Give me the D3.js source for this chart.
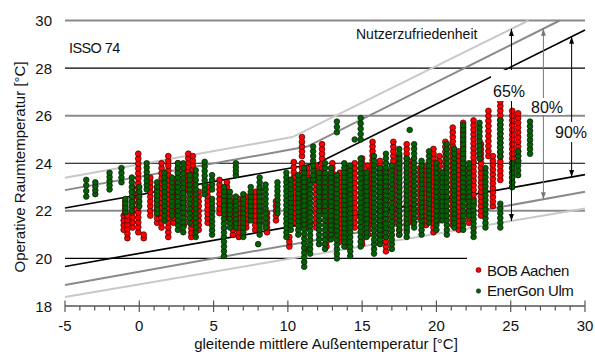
<!DOCTYPE html>
<html><head><meta charset="utf-8">
<script src="https://cdn.jsdelivr.net/npm/d3@7"></script>
<style>
html,body{margin:0;padding:0;background:#fff;}
svg{display:block;font-family:Arial,"Liberation Sans",sans-serif;}
</style></head>
<body>
<svg id="c" width="595" height="358"></svg>
<script>
// ---------- data ----------
const xTicks = [-5, 0, 5, 10, 15, 20, 25, 30];
const yTicks = [18, 20, 22, 24, 26, 28, 30];
const seriesNames = ["BOB Aachen", "EnerGon Ulm"];

// ISSO 74 comfort limits [outdoor temp, room temp]
const upper90 = [[-5, 22.12], [12, 24.0], [30, 29.6]];
const upper80 = [[-5, 22.87], [11.3, 24.7], [28.3, 30]];
const upper65 = [[-5, 23.39], [10.3, 25.1], [26.2, 30]];
const lower90 = [[-5, 19.66], [30, 23.52]];
const lower80 = [[-5, 18.88], [30, 22.8]];
const lower65 = [[-5, 18.38], [30, 22.1]];
const bandLabels = ["65%", "80%", "90%"];
const bandArrowX = [25.05, 27.2, 29.1];

// daily columns of hourly room temperatures: [outdoor temp, lowest, highest]
const aachen = [
 [-1.05,21.2,21.8],[-0.95,21.9,22.4],[-0.8,20.85,21.8],[-0.45,21.3,23.0],[-0.07,21.1,24.4],
 [0.3,20.85,21.0],[0.74,21.8,23.4],[1.2,21.5,23.0],[1.5,21.3,24.0],[1.95,20.9,24.3],
 [2.3,21.5,23.2],[2.6,22.0,24.0],[3.0,21.4,23.0],[3.3,22.9,24.4],[3.5,20.9,22.0],
 [3.6,22.0,24.3],[4.0,21.2,22.8],[4.6,21.5,23.0],[5.4,21.9,23.3],[5.9,21.7,23.2],
 [6.3,21.0,22.4],[6.7,20.9,22.5],[7.2,21.3,22.6],[7.8,21.2,22.8],[8.1,21.5,22.9],
 [8.6,21.1,21.9],[9.2,21.6,22.4],[10.1,21.3,23.1],[10.1,20.5,20.9],[10.4,23.4,24.05],
 [10.5,21.5,23.4],[10.95,24.3,25.1],[10.95,21.4,24.0],[11.3,20.4,20.4],[11.3,21.3,23.8],
 [11.9,21.3,23.9],[12.3,22.0,24.8],[12.6,20.5,23.5],[13.0,21.0,24.0],[13.5,20.7,23.6],
 [14.0,20.5,23.8],[14.5,21.3,24.0],[15.0,20.6,24.2],[15.4,21.0,23.9],[15.7,21.4,24.9],
 [16.2,20.7,24.1],[16.6,20.3,23.7],[17.1,21.5,24.9],[17.5,21.0,24.3],[18.0,21.2,24.8],
 [18.4,21.5,24.1],[18.9,21.7,23.8],[19.3,21.4,23.9],[19.8,21.1,24.6],[20.2,21.6,24.3],
 [20.6,22.0,24.9],[21.1,21.4,25.5],[21.5,21.2,24.5],[21.8,22.5,25.7],[22.2,21.5,23.8],
 [22.5,22.3,25.8],[23.0,21.8,24.8],[23.5,24.3,26.2],[23.8,22.2,24.3],[24.3,23.3,26.6],
 [25.1,23.0,26.2],[25.5,24.1,26.1]
];
const ulm = [
 [-3.57,22.6,23.3],[-2.96,22.7,23.2],[-2.0,22.9,23.6],[-1.2,23.2,23.8],[-0.93,21.95,22.5],
 [-0.5,22.0,23.4],[0.0,22.2,23.0],[0.5,22.9,24.0],[1.2,21.9,23.2],[1.7,21.6,23.6],
 [2.2,21.8,23.4],[2.6,21.2,24.0],[2.96,21.1,24.0],[3.4,21.5,23.5],[3.8,20.9,23.7],
 [4.4,22.7,24.06],[4.9,21.0,22.5],[4.9,22.9,23.5],[5.7,20.9,23.0],[5.7,20.1,20.7],
 [6.1,21.3,22.8],[6.5,23.5,24.0],[6.5,21.3,22.6],[7.0,20.9,22.7],[7.5,21.6,23.0],
 [8.0,20.6,20.6],[8.1,21.0,23.4],[8.5,21.3,23.1],[9.3,21.9,23.2],[9.9,20.9,23.6],
 [10.2,21.2,23.3],[10.7,21.0,23.5],[11.1,19.65,23.8],[11.5,20.2,23.3],[11.7,23.3,24.7],
 [12.1,20.6,23.6],[12.5,20.4,24.0],[12.9,20.8,23.8],[13.3,25.3,25.75],[13.3,20.0,23.5],
 [13.8,20.5,24.0],[14.2,20.1,23.9],[14.5,25.0,25.0],[14.9,25.0,25.9],[14.9,20.5,24.2],
 [15.3,20.9,23.6],[15.8,20.2,24.3],[16.2,20.6,23.8],[16.6,20.9,24.4],[17.0,20.4,23.9],
 [17.5,21.0,24.6],[18.0,20.9,24.2],[18.2,25.4,25.4],[18.5,21.3,24.8],[19.0,21.0,24.1],
 [19.5,21.5,24.5],[20.0,21.2,24.0],[20.4,21.6,23.6],[20.7,21.0,24.8],[21.2,21.3,24.6],
 [21.8,21.2,25.6],[22.2,21.8,24.0],[22.5,20.9,22.4],[22.9,24.2,25.7],[23.3,21.3,23.8],
 [24.3,24.3,25.8],[24.3,21.3,22.3],[25.1,23.0,24.0],[25.5,23.5,24.5],[26.3,24.4,25.75]
];

// ---------- drawing ----------
const svg = d3.select("#c");
const x = d3.scaleLinear().domain([-5, 30]).range([65, 585]);
const y = d3.scaleLinear().domain([18, 30]).range([306, 20.5]);

// grid lines
svg.append("g").selectAll("line").data(yTicks.filter(v => v > 18)).join("line")
  .attr("x1", x(-5)).attr("x2", x(30))
  .attr("y1", d => y(d)).attr("y2", d => y(d))
  .attr("stroke", d => (d % 4 === 0) ? "#000" : "#8a8a8a")
  .attr("stroke-width", d => (d % 4 === 0) ? 1.2 : 2);

// comfort lines
const line = d3.line().x(d => x(d[0])).y(d => y(d[1]));
const comfort = [
  [upper65, "#c8c8c8", 2], [lower65, "#c8c8c8", 2],
  [upper80, "#8a8a8a", 2], [lower80, "#8a8a8a", 2],
  [upper90, "#000", 1.7], [lower90, "#000", 1.7]
];
svg.append("g").selectAll("path").data(comfort).join("path")
  .attr("d", d => line(d[0])).attr("fill", "none")
  .attr("stroke", d => d[1]).attr("stroke-width", d => d[2]);

// stacked hourly points
function expand(cols) {
  const pts = [];
  cols.forEach(c => {
    const n = Math.max(1, Math.round((c[2] - c[1]) / 0.2) + 1);
    for (let i = 0; i < n; i++) pts.push([c[0], n === 1 ? c[1] : c[1] + (c[2] - c[1]) * i / (n - 1)]);
  });
  return pts;
}
svg.append("g").selectAll("circle").data(expand(aachen)).join("circle")
  .attr("cx", d => x(d[0])).attr("cy", d => y(d[1])).attr("r", 2.9)
  .attr("fill", "#ff0000").attr("stroke", "#3a0000").attr("stroke-width", 0.7);
svg.append("g").selectAll("circle").data(expand(ulm)).join("circle")
  .attr("cx", d => x(d[0])).attr("cy", d => y(d[1])).attr("r", 2.8)
  .attr("fill", "#006400").attr("stroke", "#102010").attr("stroke-width", 0.8);

// arrows between limits
function interp(arr, t) {
  for (let i = 0; i < arr.length - 1; i++) {
    if (t >= arr[i][0] && t <= arr[i + 1][0]) {
      const f = (t - arr[i][0]) / (arr[i + 1][0] - arr[i][0]);
      return arr[i][1] + f * (arr[i + 1][1] - arr[i][1]);
    }
  }
  return arr[arr.length - 1][1];
}
const bands = [[upper65, lower65, "#000"], [upper80, lower80, "#777"], [upper90, lower90, "#000"]];
const defs = svg.append("defs");
["#000", "#777"].forEach((c, i) => {
  defs.append("marker").attr("id", "ah" + i).attr("viewBox", "0 0 10 10")
    .attr("refX", 10).attr("refY", 5).attr("markerWidth", 7).attr("markerHeight", 7)
    .attr("markerUnits", "userSpaceOnUse").attr("orient", "auto-start-reverse")
    .append("path").attr("d", "M0,1.5L10,5L0,8.5Z").attr("fill", c);
});
const ag = svg.append("g");
bands.forEach((b, i) => {
  const t = bandArrowX[i];
  ag.append("line").attr("x1", x(t)).attr("x2", x(t))
    .attr("y1", y(interp(b[0], t))).attr("y2", y(interp(b[1], t)))
    .attr("stroke", b[2]).attr("stroke-width", 1)
    .attr("marker-start", `url(#ah${b[2] === "#000" ? 0 : 1})`)
    .attr("marker-end", `url(#ah${b[2] === "#000" ? 0 : 1})`);
});
// band labels with white boxes
const labPos = [[509, 97, 491, 70, 36, 31], [547, 113, 528, 98, 38, 17], [571, 138, 554, 122, 34, 20]];
bandLabels.forEach((l, i) => {
  const p = labPos[i];
  svg.append("rect").attr("x", p[2]).attr("y", p[3]).attr("width", p[4]).attr("height", p[5]).attr("fill", "#fff");
  svg.append("text").attr("x", p[0]).attr("y", p[1]).attr("text-anchor", "middle")
    .attr("font-size", 16).attr("fill", "#111").text(l);
});

// x axis
const ax = svg.append("g").attr("stroke", "#555");
ax.append("line").attr("x1", x(-5)).attr("x2", x(30)).attr("y1", 306).attr("y2", 306).attr("stroke-width", 1.5);
ax.selectAll(".mi").data(d3.range(-5, 31, 1)).join("line")
  .attr("x1", d => x(d)).attr("x2", d => x(d))
  .attr("y1", d => d % 5 === 0 ? 300.5 : 306).attr("y2", d => d % 5 === 0 ? 312 : 310.5)
  .attr("stroke-width", 1.2);
svg.append("g").selectAll("text").data(xTicks).join("text")
  .attr("x", d => x(d)).attr("y", 331).attr("text-anchor", "middle")
  .attr("font-size", 15).attr("fill", "#111").text(d => d);
svg.append("g").selectAll("text").data(yTicks).join("text")
  .attr("x", 52).attr("y", d => y(d) + 5.5).attr("text-anchor", "end")
  .attr("font-size", 15).attr("fill", "#111").text(d => d);

// titles
svg.append("text").attr("x", 326).attr("y", 349).attr("text-anchor", "middle")
  .attr("font-size", 15).attr("fill", "#111").text("gleitende mittlere Außentemperatur [°C]");
svg.append("text").attr("transform", "translate(25,167) rotate(-90)").attr("text-anchor", "middle")
  .attr("font-size", 15).attr("fill", "#111").text("Operative Raumtemperatur [°C]");
svg.append("text").attr("x", 69).attr("y", 53).attr("font-size", 14.5).attr("letter-spacing", -0.6)
  .attr("fill", "#111").text("ISSO 74");
svg.append("text").attr("x", 356).attr("y", 38.5).attr("font-size", 14).attr("fill", "#111")
  .text("Nutzerzufriedenheit");

// legend
const lg = svg.append("g");
lg.append("rect").attr("x", 467).attr("y", 252).attr("width", 119).attr("height", 48).attr("fill", "#fff");
lg.append("circle").attr("cx", 478.5).attr("cy", 270).attr("r", 2.5)
  .attr("fill", "#ff0000").attr("stroke", "#3a0000").attr("stroke-width", 0.6);
lg.append("circle").attr("cx", 478.5).attr("cy", 291).attr("r", 2.2)
  .attr("fill", "#006400").attr("stroke", "#102010").attr("stroke-width", 0.6);
lg.append("text").attr("x", 487).attr("y", 275.5).attr("font-size", 15).attr("letter-spacing", -0.4)
  .attr("fill", "#111").text(seriesNames[0]);
lg.append("text").attr("x", 487).attr("y", 296).attr("font-size", 15).attr("letter-spacing", -0.4)
  .attr("fill", "#111").text(seriesNames[1]);
</script>
</body></html>
